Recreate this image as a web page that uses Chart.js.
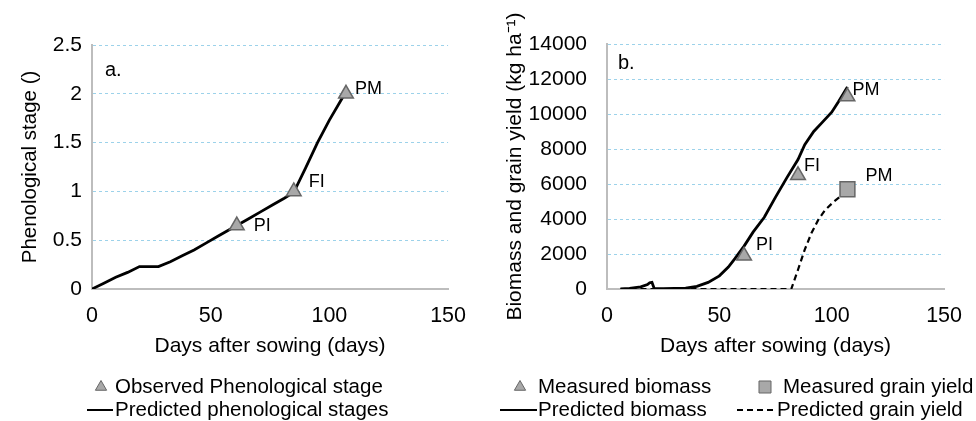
<!DOCTYPE html>
<html>
<head>
<meta charset="utf-8">
<script src="https://cdn.jsdelivr.net/npm/chart.js@4.4.0/dist/chart.umd.min.js"></script>
<style>
  html, body { margin: 0; padding: 0; background: #fff; }
  #wrap { position: relative; width: 976px; height: 421px; overflow: hidden; }
  #left { position: absolute; left: 0; top: 0; }
  #right { position: absolute; left: 480px; top: 0; }
</style>
</head>
<body>
<div id="wrap">
  <canvas id="left" width="480" height="421"></canvas>
  <canvas id="right" width="496" height="421"></canvas>
</div>
<script>
// values
const dayTicks = [0, 50, 100, 150];
const stageTicks = [0, 0.5, 1, 1.5, 2, 2.5];
const yieldTicks = [0, 2000, 4000, 6000, 8000, 10000, 12000, 14000];

// panel a - phenological stage
const stageDays   = [0, 5, 10, 15, 20, 28, 33, 38, 43, 48, 53, 58, 61, 66, 71, 76, 81, 85, 90, 95, 100, 106];
const stageValues = [0, 0.06, 0.12, 0.17, 0.23, 0.23, 0.28, 0.34, 0.40, 0.47, 0.54, 0.61, 0.65, 0.72, 0.79, 0.86, 0.93, 0.99, 1.24, 1.50, 1.73, 1.98];
const obsStageDays   = [61, 85, 107];
const obsStageValues = [0.65, 1.0, 2.0];
const stageNames = ['PI', 'FI', 'PM'];

// panel b - biomass and grain yield
const biomassDays   = [6, 10, 15, 18, 19, 20, 21, 25, 30, 35, 40, 45, 50, 54, 57, 61, 65, 70, 75, 80, 85, 88, 92, 96, 100, 103, 107];
const biomassValues = [0, 40, 120, 250, 360, 380, 30, 20, 30, 50, 150, 380, 750, 1250, 1750, 2450, 3250, 4100, 5250, 6350, 7400, 8250, 9000, 9550, 10100, 10700, 11550];
const grainDays   = [6, 82, 85, 88, 91, 94, 97, 101, 104, 107];
const grainValues = [0, 0, 1100, 2250, 3200, 3950, 4500, 5000, 5300, 5700];
const obsBiomassDays   = [61, 85, 107];
const obsBiomassValues = [1900, 6500, 11000];
const obsGrainDays   = [107];
const obsGrainValues = [5700];
const biomassNames = ['PI', 'FI', 'PM'];
const grainNames = ['PM'];

const FONT = '"Liberation Sans", Arial, Helvetica, sans-serif';
const AXIS_GRAY = '#bdbdbd';
const GRID_BLUE = '#9cd2ea';
const MARK_FILL = '#a8a8a8';
const MARK_EDGE = '#666';

Chart.defaults.font.family = FONT;
Chart.defaults.font.size = 21;
Chart.defaults.color = '#000';

function toPoints(xs, ys) {
  return xs.map((x, i) => ({ x: x, y: ys[i] }));
}

// text next to the measured points (PI, FI, PM) and the panel letter
const pointNotes = {
  id: 'pointNotes',
  afterDatasetsDraw(chart, args, opts) {
    const ctx = chart.ctx;
    ctx.save();
    ctx.fillStyle = '#000';
    ctx.textBaseline = 'middle';
    ctx.textAlign = 'left';
    ctx.font = '18px ' + FONT;
    (opts.notes || []).forEach(n => {
      const meta = chart.getDatasetMeta(n.dataset);
      meta.data.forEach((pt, i) => {
        const off = n.offsets[i];
        ctx.fillText(n.labels[i], pt.x + off[0], pt.y + off[1]);
      });
    });
    if (opts.tag) {
      ctx.font = '20px ' + FONT;
      ctx.fillText(opts.tag.text, chart.chartArea.left + opts.tag.dx, chart.chartArea.top + opts.tag.dy);
    }
    ctx.restore();
  }
};

// legend laid out as in the figure (two rows, fixed columns)
const rowLegend = {
  id: 'rowLegend',
  afterDraw(chart, args, opts) {
    const ctx = chart.ctx;
    ctx.save();
    (opts.items || []).forEach(it => {
      const ds = chart.data.datasets[it.dataset];
      const y = opts.rows[it.row];
      if (it.symbol === 'line') {
        ctx.strokeStyle = ds.borderColor;
        ctx.lineWidth = 2;
        ctx.setLineDash(ds.borderDash || []);
        ctx.beginPath();
        ctx.moveTo(it.x0, y);
        ctx.lineTo(it.x1, y);
        ctx.stroke();
        ctx.setLineDash([]);
      } else {
        ctx.fillStyle = ds.pointBackgroundColor;
        ctx.strokeStyle = ds.pointBorderColor;
        Chart.helpers.drawPoint(ctx, { pointStyle: ds.pointStyle, radius: it.r, borderWidth: 1.2 }, it.x0, y);
      }
      ctx.fillStyle = '#000';
      ctx.font = '20.5px ' + FONT;
      ctx.textAlign = 'left';
      ctx.textBaseline = 'middle';
      ctx.fillText(ds.label, it.tx, y);
    });
    ctx.restore();
  }
};

function xScale(height) {
  return {
    type: 'linear', min: 0, max: 150,
    afterBuildTicks: s => { s.ticks = dayTicks.map(v => ({ value: v })); },
    afterFit: s => { s.height = height; },
    ticks: { padding: 14, callback: v => String(v), font: { size: 21.5 } },
    grid: { display: false, drawTicks: false },
    border: { display: true, color: AXIS_GRAY, width: 2 },
    title: { display: true, text: 'Days after sowing (days)', font: { size: 21 }, padding: { top: 0, bottom: 62 } }
  };
}

function yScale(ticks, width, tickPad, title, titleSize, titlePad) {
  return {
    type: 'linear', min: ticks[0], max: ticks[ticks.length - 1],
    afterBuildTicks: s => { s.ticks = ticks.map(v => ({ value: v })); },
    afterFit: s => { s.width = width; },
    ticks: { padding: tickPad, callback: v => String(v), font: { size: 21 } },
    grid: {
      drawTicks: false, lineWidth: 1,
      color: c => (c.tick && c.tick.value === 0) ? 'rgba(0,0,0,0)' : GRID_BLUE
    },
    border: { display: true, color: AXIS_GRAY, width: 2, dash: [3, 3] },
    title: { display: true, text: title, font: { size: titleSize }, padding: { top: titlePad, bottom: 0 } }
  };
}

const baseOptions = {
  responsive: false,
  animation: false,
  devicePixelRatio: 1,
  events: []
};

// panel a
new Chart(document.getElementById('left'), {
  type: 'scatter',
  data: {
    datasets: [
      {
        label: 'Observed Phenological stage',
        data: toPoints(obsStageDays, obsStageValues),
        pointStyle: 'triangle', pointRadius: 8.5,
        pointBackgroundColor: MARK_FILL, pointBorderColor: MARK_EDGE, pointBorderWidth: 1.5,
        order: 0
      },
      {
        label: 'Predicted phenological stages',
        data: toPoints(stageDays, stageValues),
        showLine: true, borderColor: '#000', borderWidth: 2.8,
        pointRadius: 0, tension: 0, fill: false,
        order: 1
      }
    ]
  },
  options: Object.assign({}, baseOptions, {
    layout: { padding: { left: 0, right: 28, top: 45, bottom: 0 } },
    plugins: {
      legend: { display: false },
      tooltip: { enabled: false },
      pointNotes: {
        notes: [{ dataset: 0, labels: stageNames, offsets: [[17, 0], [15, -9], [9, -5]] }],
        tag: { text: 'a.', dx: 13, dy: 25 }
      },
      rowLegend: {
        rows: [387, 410],
        items: [
          { dataset: 0, symbol: 'marker', x0: 101, r: 6.5, tx: 115, row: 0 },
          { dataset: 1, symbol: 'line', x0: 87, x1: 113, tx: 115, row: 1 }
        ]
      }
    },
    scales: {
      x: xScale(132),
      y: yScale(stageTicks, 92, 10, 'Phenological stage ()', 20.5, 18)
    }
  }),
  plugins: [pointNotes, rowLegend]
});

// panel b
new Chart(document.getElementById('right'), {
  type: 'scatter',
  data: {
    datasets: [
      {
        label: 'Measured biomass',
        data: toPoints(obsBiomassDays, obsBiomassValues),
        pointStyle: 'triangle', pointRadius: 8.5,
        pointBackgroundColor: MARK_FILL, pointBorderColor: MARK_EDGE, pointBorderWidth: 1.5,
        order: 0
      },
      {
        label: 'Measured grain yield',
        data: toPoints(obsGrainDays, obsGrainValues),
        pointStyle: 'rect', pointRadius: 10.5,
        pointBackgroundColor: MARK_FILL, pointBorderColor: MARK_EDGE, pointBorderWidth: 1.5,
        order: 0
      },
      {
        label: 'Predicted biomass',
        data: toPoints(biomassDays, biomassValues),
        showLine: true, borderColor: '#000', borderWidth: 2.8,
        pointRadius: 0, tension: 0, fill: false,
        order: 1
      },
      {
        label: 'Predicted grain yield',
        data: toPoints(grainDays, grainValues),
        showLine: true, borderColor: '#000', borderWidth: 2.2, borderDash: [6, 4],
        pointRadius: 0, tension: 0, fill: false,
        order: 2
      }
    ]
  },
  options: Object.assign({}, baseOptions, {
    layout: { padding: { left: 0, right: 19, top: 44, bottom: 0 } },
    plugins: {
      legend: { display: false },
      tooltip: { enabled: false },
      pointNotes: {
        notes: [
          { dataset: 0, labels: biomassNames, offsets: [[12, -11], [6, -9], [5, -6]] },
          { dataset: 1, labels: grainNames, offsets: [[18, -13]] }
        ],
        tag: { text: 'b.', dx: 11, dy: 19 }
      },
      rowLegend: {
        rows: [387, 410],
        items: [
          { dataset: 0, symbol: 'marker', x0: 40, r: 6.5, tx: 58, row: 0 },
          { dataset: 1, symbol: 'marker', x0: 285, r: 8.5, tx: 303, row: 0 },
          { dataset: 2, symbol: 'line', x0: 20, x1: 57, tx: 58, row: 1 },
          { dataset: 3, symbol: 'line', x0: 257, x1: 294, tx: 297, row: 1 }
        ]
      }
    },
    scales: {
      x: xScale(132),
      y: yScale(yieldTicks, 127, 20, 'Biomass and grain yield (kg ha\u207B\u00B9)', 21, 23)
    }
  }),
  plugins: [pointNotes, rowLegend]
});
</script>
</body>
</html>
